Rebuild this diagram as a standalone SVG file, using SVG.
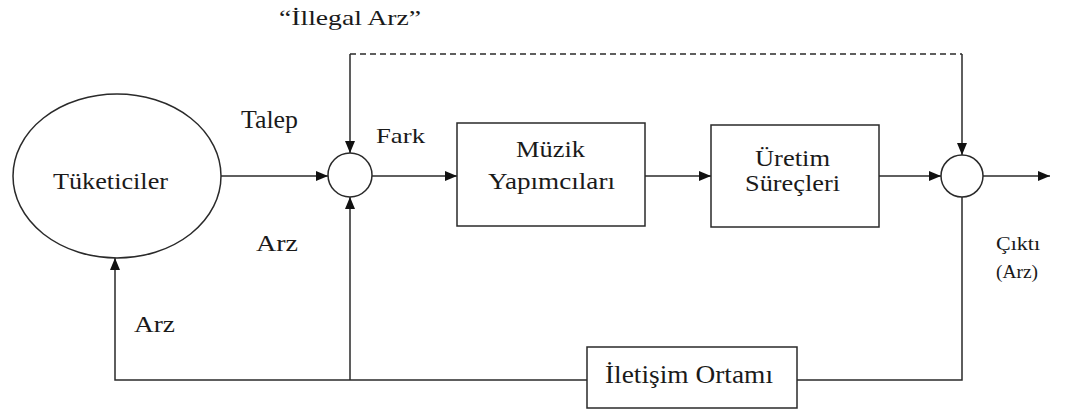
<svg xmlns="http://www.w3.org/2000/svg" width="1066" height="415" viewBox="0 0 1066 415">
  <style>
    .shape { fill: #ffffff; stroke: #2a2a2a; stroke-width: 1.5; }
    .wire { fill: none; stroke: #2a2a2a; stroke-width: 1.5; }
    .dash { stroke-dasharray: 6 4; }
    .arrow { marker-end: url(#head); }
    .lbl { font-family: "Times New Roman", serif; fill: #1a1a1a; }
  </style>
  <defs>
    <marker id="head" markerUnits="userSpaceOnUse" markerWidth="12" markerHeight="10" refX="12" refY="5" orient="auto">
      <path d="M0,0 L12,5 L0,10 z" fill="#111111"/>
    </marker>
  </defs>
  <rect width="1066" height="415" fill="#ffffff"/>

  <!-- connectors -->
  <g id="connectors">
    <!-- consumers to first summing point -->
    <line class="wire arrow" x1="221" y1="176" x2="328" y2="176"/>
    <!-- illegal supply branch (dashed top run) -->
    <line class="wire dash" x1="350" y1="54" x2="962" y2="54"/>
    <line class="wire arrow" x1="350" y1="54" x2="350" y2="153"/>
    <line class="wire arrow" x1="962" y1="54" x2="962" y2="155"/>
    <!-- main forward path -->
    <line class="wire arrow" x1="372" y1="176" x2="457" y2="176"/>
    <line class="wire arrow" x1="645" y1="176" x2="711" y2="176"/>
    <line class="wire arrow" x1="879" y1="176" x2="941" y2="176"/>
    <line class="wire arrow" x1="983" y1="176" x2="1050" y2="176"/>
    <!-- output feedback to communication medium -->
    <polyline class="wire" points="962,197 962,380 797,380"/>
    <!-- communication medium back to consumers -->
    <polyline class="wire arrow" points="587,380 115,380 115,258"/>
    <!-- supply tap to first summing point -->
    <line class="wire arrow" x1="350" y1="380" x2="350" y2="197"/>
  </g>

  <!-- nodes -->
  <g id="tuketiciler">
    <ellipse class="shape" cx="117" cy="176" rx="104" ry="82"/>
    <text class="lbl" x="53" y="189" font-size="24" textLength="115" lengthAdjust="spacingAndGlyphs">Tüketiciler</text>
  </g>

  <g id="toplama1">
    <circle class="shape" cx="350" cy="175" r="22"/>
  </g>

  <g id="muzik-yapimcilari">
    <rect class="shape" x="457" y="123" width="188" height="103"/>
    <text class="lbl" x="516" y="157" font-size="23" textLength="69" lengthAdjust="spacingAndGlyphs">Müzik</text>
    <text class="lbl" x="488" y="189" font-size="23" textLength="127" lengthAdjust="spacingAndGlyphs">Yapımcıları</text>
  </g>

  <g id="uretim-surecleri">
    <rect class="shape" x="711" y="125" width="168" height="102"/>
    <text class="lbl" x="755" y="166" font-size="23" textLength="75" lengthAdjust="spacingAndGlyphs">Üretim</text>
    <text class="lbl" x="745" y="191" font-size="23" textLength="95" lengthAdjust="spacingAndGlyphs">Süreçleri</text>
  </g>

  <g id="toplama2">
    <circle class="shape" cx="962" cy="176" r="21"/>
  </g>

  <g id="iletisim-ortami">
    <rect class="shape" x="587" y="347" width="210" height="61"/>
    <text class="lbl" x="605" y="383" font-size="25" textLength="168" lengthAdjust="spacingAndGlyphs">İletişim Ortamı</text>
  </g>

  <!-- connector labels -->
  <g id="labels">
    <text class="lbl" x="279" y="25" font-size="22" textLength="142" lengthAdjust="spacingAndGlyphs">“İllegal Arz”</text>
    <text class="lbl" x="241" y="128" font-size="25" textLength="57" lengthAdjust="spacingAndGlyphs">Talep</text>
    <text class="lbl" x="376" y="143" font-size="22" textLength="49" lengthAdjust="spacingAndGlyphs">Fark</text>
    <text class="lbl" x="256" y="251" font-size="24" textLength="42" lengthAdjust="spacingAndGlyphs">Arz</text>
    <text class="lbl" x="134" y="332" font-size="24" textLength="41" lengthAdjust="spacingAndGlyphs">Arz</text>
    <text class="lbl" x="996" y="250" font-size="19" textLength="44" lengthAdjust="spacingAndGlyphs">Çıktı</text>
    <text class="lbl" x="996" y="278" font-size="19" textLength="42" lengthAdjust="spacingAndGlyphs">(Arz)</text>
  </g>
</svg>
